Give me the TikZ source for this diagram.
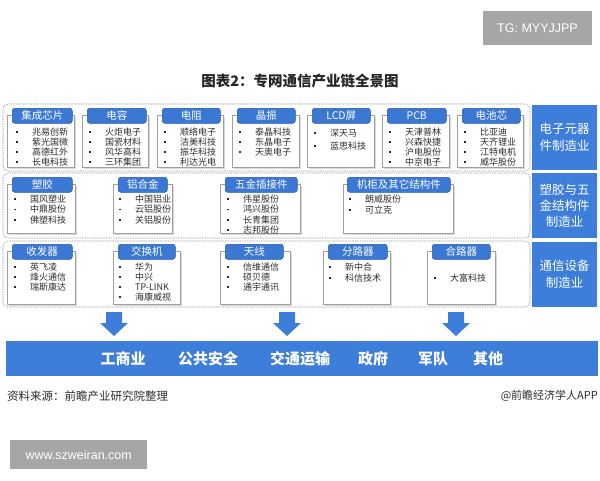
\documentclass[tikz,border=0pt]{standalone}
\usepackage{fontspec}
\setmainfont{Noto Sans CJK SC}
\newfontfamily\latinsans{Liberation Sans}
\definecolor{mblue}{RGB}{60,126,218}
\definecolor{hblue}{RGB}{58,120,212}
\definecolor{hedge}{RGB}{38,88,168}
\definecolor{dgray}{RGB}{150,150,150}
\definecolor{bgray}{RGB}{166,166,166}
\definecolor{txt}{RGB}{45,45,45}
\tikzset{
  outerbox/.style={draw=dgray, dash pattern=on 1.4pt off 1pt, rounded corners=5pt, line width=0.6pt},
  bodybox/.style={draw=gray!75, fill=white, line width=0.6pt, inner sep=0pt},
  hdr/.style={fill=hblue, draw=hedge, rounded corners=2.5pt, text=white, font=\fontsize{10.5}{11}\selectfont, inner sep=0pt, line width=0.5pt},
  item/.style={font=\fontsize{9}{9}\selectfont, text=txt, inner sep=0pt, anchor=west},
  side/.style={fill=mblue, text=white, font=\fontsize{12.5}{17}\selectfont, align=center, inner sep=0pt},
  bartext/.style={text=white, font=\bfseries\fontsize{15}{16}\selectfont, inner sep=0pt},
  badge/.style={fill=bgray, text=white, inner sep=0pt, font=\latinsans\fontsize{12.5}{13}\selectfont},
  blockarrow/.style={fill=mblue}
}
% id, xl, xr, hx1, hx2, header top, bottom, title
\newcommand\cbox[8]{%
  \fill[gray!30] ({#2+1.5},{#6+8.5}) rectangle ({#3+1.5},{#7+1.5});
  \node[bodybox, anchor=north west, minimum width={(#3-#2)*1pt}, minimum height={(#7-#6-7)*1pt}] (#1) at (#2,{#6+7}) {};
  \node[hdr, anchor=north west, minimum width={(#5-#4)*1pt}, minimum height=15pt] (#1h) at (#4,#6) {#8};
}
% id, bullet x, first y, step, list
\newcommand\citems[5]{%
  \foreach \t [count=\i] in {#5} {
    \fill[txt] ({#2-0.9},{#3+(\i-1)*#4-0.9}) rectangle ({#2+0.9},{#3+(\i-1)*#4+0.9});
    \node[item] (#1-\i) at ({#2+15},{#3+(\i-1)*#4}) {\t};
  }
}
% id, center x
\newcommand\barrow[2]{%
  \fill[blockarrow] ({#2-8},312) -- ({#2+8},312) -- ({#2+8},323) -- ({#2+14},323) -- (#2,336) -- ({#2-14},323) -- ({#2-8},323) -- cycle;
  \coordinate (#1) at (#2,324);
}
\begin{document}
\begin{tikzpicture}[x=1pt,y=-1pt]
\useasboundingbox (0,0) rectangle (600,480);
\fill[white] (0,0) rectangle (600,480);

% badges and title
\node[badge, minimum width=109pt, minimum height=34pt] (tg) at (537.5,28) {TG: MYYJJPP};
\node[font=\bfseries\fontsize{14.5}{15}\selectfont, text=black!85, inner sep=0pt] (title) at (300,81) {图表2：专网通信产业链全景图};

% outer dashed rows
\draw[outerbox] (3,104) rectangle (530,171);
\draw[outerbox] (3,173) rectangle (530,238);
\draw[outerbox] (3,241) rectangle (530,307);

% side boxes
\node[side, anchor=north west, minimum width=65pt, minimum height=65pt] (s1) at (532,105) {电子元器\\件制造业};
\node[side, anchor=north west, minimum width=65pt, minimum height=65pt, font=\fontsize{12.5}{16}\selectfont] (s2) at (532,173) {塑胶与五\\金结构件\\制造业};
\node[side, anchor=north west, minimum width=65pt, minimum height=65pt] (s3) at (532,242) {通信设备\\制造业};

% row 1
\cbox{a1}{7}{74}{12}{72}{108}{167}{集成芯片}
\citems{a1}{17}{132}{10}{兆易创新,紫光国微,高德红外,长电科技}
\cbox{a2}{82}{148}{87}{146}{108}{167}{电容}
\citems{a2}{90}{132}{10}{火炬电子,国瓷材料,风华高科,三环集团}
\cbox{a3}{157}{223}{162}{220}{108}{167}{电阻}
\citems{a3}{165}{132}{10}{顺络电子,洁美科技,振华科技,利达光电}
\cbox{a4}{232}{299}{237}{295}{108}{167}{晶振}
\citems{a4}{240}{132}{10}{泰晶科技,东晶电子,天奥电子}
\cbox{a5}{307}{374}{312}{370}{108}{167}{LCD屏}
\citems{a5}{315}{133}{13}{深天马,蓝思科技}
\cbox{a6}{382}{449}{387}{446}{108}{167}{PCB}
\citems{a6}{390}{132}{10}{天津普林,兴森快捷,沪电股份,中京电子}
\cbox{a7}{457}{523}{462}{520}{108}{167}{电池芯}
\citems{a7}{465}{132}{10}{比亚迪,天齐锂业,江特电机,威华股份}

% row 2
\cbox{b1}{7}{75}{12}{72}{177}{233}{塑胶}
\citems{b1}{15}{199}{10.4}{国风塑业,中鼎股份,佛塑科技}
\cbox{b2}{113}{172}{118}{167}{177}{233}{铝合金}
\citems{b2}{120}{199}{10.4}{中国铝业,云铝股份,关铝股份}
\cbox{b3}{220}{300}{225}{297}{177}{233}{五金插接件}
\citems{b3}{228}{199}{10.4}{伟星股份,鸿兴股份,长青集团,志邦股份}
\cbox{b4}{343}{453}{347}{450}{177}{233}{机柜及其它结构件}
\citems{b4}{350}{199}{11}{朗威股份,可立克}

% row 3
\cbox{c1}{7}{75}{12}{72}{244}{304}{收发器}
\citems{c1}{15}{267}{10}{英飞凌,烽火通信,瑞斯康达}
\cbox{c2}{113}{180}{118}{175}{244}{304}{交换机}
\citems{c2}{120}{267}{10}{华为,中兴,TP-LINK,海康威视}
\cbox{c3}{220}{290}{225}{283}{244}{304}{天线}
\citems{c3}{228}{267}{10}{信维通信,硕贝德,通宇通讯}
\cbox{c4}{323}{390}{328}{387}{244}{304}{分路器}
\citems{c4}{330}{267}{11}{新中合,科信技术}
\cbox{c5}{427}{495}{432}{490}{244}{304}{合路器}
\citems{c5}{435}{278}{10}{大富科技}

% arrows
\barrow{ar1}{114}
\barrow{ar2}{287}
\barrow{ar3}{456}

% bottom bar
\node[fill=mblue, anchor=north west, minimum width=592pt, minimum height=35pt, inner sep=0pt] (bar) at (6,341) {};
\node[bartext] (u1) at (123,359) {工商业};
\node[bartext] (u2) at (208,359) {公共安全};
\node[bartext] (u3) at (300,359) {交通运输};
\node[bartext] (u4) at (373,359) {政府};
\node[bartext] (u5) at (433,359) {军队};
\node[bartext] (u6) at (488,359) {其他};

% footer
\node[anchor=west, inner sep=0pt, text=txt, font=\fontsize{11.5}{12}\selectfont] (src) at (7,396) {资料来源：前瞻产业研究院整理};
\node[anchor=east, inner sep=0pt, text=txt, font=\fontsize{11}{12}\selectfont] (app) at (598,396) {@前瞻经济学人APP};

\node[badge, anchor=north west, minimum width=137pt, minimum height=29pt] (www) at (10,440) {www.szweiran.com};
\end{tikzpicture}
\end{document}
